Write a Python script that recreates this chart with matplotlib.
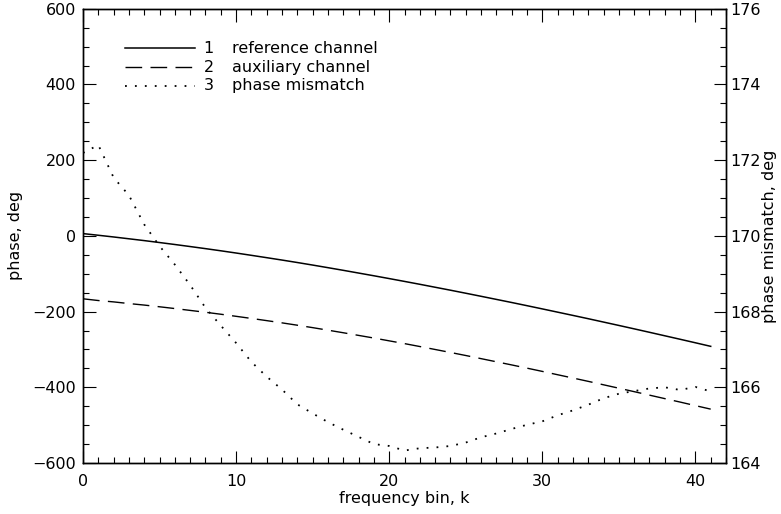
import numpy as np
import matplotlib
matplotlib.use('Agg')
import matplotlib.pyplot as plt
import matplotlib.ticker as ticker

plt.rcParams.update({
    'font.family': 'DejaVu Sans',
    'font.size': 11.5,
    'axes.linewidth': 1.0,
    'xtick.direction': 'in',
    'ytick.direction': 'in',
})

# ── data ──────────────────────────────────────────────────────────────────────
k_bins = list(range(42))

ref_phase = [6.0, 1.6, -2.9, -7.7, -12.5, -17.6, -22.8, -28.2, -33.7, -39.4,
             -45.3, -51.4, -57.6, -63.9, -70.4, -77.1, -84.0, -91.0, -98.2, -105.4,
             -112.8, -120.3, -127.9, -135.7, -143.5, -151.5, -159.6, -167.8, -176.0, -184.4,
             -192.9, -201.5, -210.1, -218.8, -227.7, -236.6, -245.6, -254.7, -263.9, -273.1,
             -282.4, -291.8]

aux_phase = [-166.2, -170.8, -174.4, -178.8, -182.8, -187.3, -192.0, -196.9, -201.8, -207.0,
             -212.5, -218.1, -223.9, -229.8, -236.0, -242.4, -249.1, -255.9, -262.9, -269.9,
             -277.3, -284.6, -292.3, -300.1, -308.0, -316.0, -324.3, -332.6, -340.9, -349.4,
             -358.0, -366.8, -375.5, -384.3, -393.4, -402.4, -411.5, -420.7, -429.9, -439.0,
             -448.4, -457.7]

mismatch = [172.19, 172.40, 171.54, 171.07, 170.30, 169.73, 169.24, 168.70, 168.10, 167.63,
            167.17, 166.67, 166.28, 165.94, 165.55, 165.31, 165.08, 164.88, 164.69, 164.50,
            164.45, 164.33, 164.39, 164.41, 164.45, 164.54, 164.68, 164.78, 164.90, 165.01,
            165.10, 165.26, 165.39, 165.54, 165.71, 165.83, 165.90, 165.97, 166.00, 165.93,
            166.01, 165.89]

legend_nums = ['1', '2', '3']
legend_text = ['reference channel', 'auxiliary channel', 'phase mismatch']

# ── figure ────────────────────────────────────────────────────────────────────
fig = plt.figure(figsize=(7.81, 5.14), dpi=100)
ax = fig.add_axes([0.1063, 0.0992, 0.8233, 0.8838])

DASH = (0, (12, 6))
DOT = (0, (1, 4.5))

ax.plot(k_bins, ref_phase, color='black', lw=1.1)
ax.plot(k_bins, aux_phase, color='black', lw=1.0, linestyle=DASH)

ax.set_xlim(0, 42)
ax.set_ylim(-600, 600)
ax.xaxis.set_major_locator(ticker.MultipleLocator(10))
ax.xaxis.set_minor_locator(ticker.MultipleLocator(1))
ax.yaxis.set_major_locator(ticker.MultipleLocator(200))
ax.yaxis.set_minor_locator(ticker.MultipleLocator(50))
ax.tick_params(axis='x', which='both', top=True, bottom=True, pad=8)
ax.tick_params(axis='y', which='both', left=True, right=False, pad=5)
ax.tick_params(which='major', length=9, width=0.8)
ax.tick_params(which='minor', length=4.5, width=0.8)
ax.set_xlabel('frequency bin, k', labelpad=1)
ax.set_ylabel('phase, deg', labelpad=7)

ax2 = ax.twinx()
ax2.plot(k_bins, mismatch, color='black', lw=1.3, linestyle=DOT)
ax2.set_ylim(164, 176)
ax2.yaxis.set_major_locator(ticker.MultipleLocator(2))
ax2.yaxis.set_minor_locator(ticker.MultipleLocator(0.5))
ax2.tick_params(axis='y', which='both', right=True, pad=3)
ax2.tick_params(which='major', length=9, width=0.8)
ax2.tick_params(which='minor', length=4.5, width=0.8)
ax2.set_ylabel('phase mismatch, deg', labelpad=1)

# hand-drawn legend like the original
styles = [dict(lw=1.1, linestyle='-'), dict(lw=1.0, linestyle=DASH),
          dict(lw=1.3, linestyle=DOT)]
row_y = [495, 446, 397]
for num, txt, st, yy in zip(legend_nums, legend_text, styles, row_y):
    ax.plot([2.75, 7.3], [yy, yy], color='black', **st)
    ax.text(8.2, yy, num, ha='center', va='center')
    ax.text(9.7, yy, txt, ha='left', va='center')

fig.savefig('out.png', dpi=100)
